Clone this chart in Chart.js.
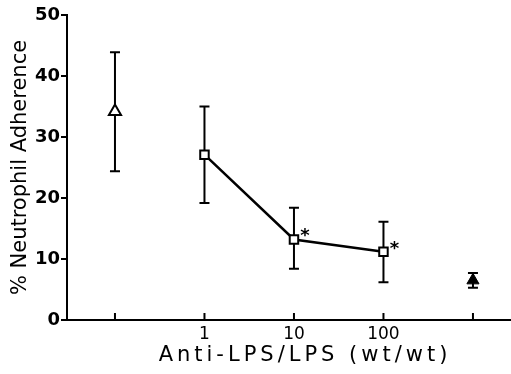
<!DOCTYPE html>
<html>
<head>
<meta charset="utf-8">
<script src="https://cdn.jsdelivr.net/npm/chart.js@4.4.1/dist/chart.umd.min.js"></script>
<style>
  html, body { margin: 0; padding: 0; background: #fff; }
  canvas { display: block; }
</style>
</head>
<body>
<canvas id="chart" width="511" height="374"></canvas>
<script>
// x slots: no antibody, ratio 1, 10, 100, and the filled-triangle group
const xTickLabels = ['', '1', '10', '100', ''];
const xTitle = 'Anti-LPS/LPS (wt/wt)';
const yTitle = '% Neutrophil Adherence';

// open triangle
const controlSlot = [0];
const controlMean = [34.2];
const controlLow = [24.4];
const controlHigh = [43.9];

// anti-LPS/LPS ratios (open squares, joined)
const ratioSlots = [1, 2, 3];
const ratioMean = [27.1, 13.2, 11.2];
const ratioLow = [19.2, 8.4, 6.2];
const ratioHigh = [35.0, 18.4, 16.1];
const ratioSignificant = [false, true, true];

// filled triangle
const refSlot = [4];
const refMean = [6.5];
const refLow = [5.3];
const refHigh = [7.7];

const FONT = "'DejaVu Sans', sans-serif";
const toPoints = (xs, ys) => xs.map((x, i) => ({ x: x, y: ys[i] }));

// error bars, upward x ticks, asterisks and the x title
const extras = {
  id: 'extras',
  beforeDatasetsDraw(chart) {
    const ctx = chart.ctx, xs = chart.scales.x, ys = chart.scales.y;
    ctx.save();
    ctx.strokeStyle = '#000';
    ctx.lineWidth = 2;
    ctx.beginPath();
    chart.data.datasets.forEach(ds => {
      ds.data.forEach((p, i) => {
        const px = xs.getPixelForValue(p.x);
        const top = ys.getPixelForValue(ds.errHigh[i]);
        const bot = ys.getPixelForValue(ds.errLow[i]);
        ctx.moveTo(px, top); ctx.lineTo(px, bot);
        ctx.moveTo(px - 5, top); ctx.lineTo(px + 5, top);
        ctx.moveTo(px - 5, bot); ctx.lineTo(px + 5, bot);
      });
    });
    const base = ys.getPixelForValue(0);
    xTickLabels.forEach((_, i) => {
      const px = xs.getPixelForValue(i);
      ctx.moveTo(px, base); ctx.lineTo(px, base - 7);
    });
    ctx.stroke();
    ctx.restore();
  },
  afterDatasetsDraw(chart) {
    const ctx = chart.ctx, xs = chart.scales.x, ys = chart.scales.y;
    const area = chart.chartArea;
    ctx.save();
    ctx.fillStyle = '#000';
    ctx.font = 'bold 18px ' + FONT;
    ctx.textAlign = 'center';
    ratioSlots.forEach((s, i) => {
      if (!ratioSignificant[i]) return;
      const px = xs.getPixelForValue(s) + 11;
      const py = ys.getPixelForValue(ratioMean[i]) - 9;
      ctx.fillText('*', px, py + 11);
    });
    ctx.font = '21px ' + FONT;
    ctx.letterSpacing = '4px';
    ctx.textBaseline = 'middle';
    ctx.fillText(xTitle, (area.left + area.right) / 2 + 16, area.bottom + 36);
    ctx.restore();
  }
};

new Chart(document.getElementById('chart'), {
  type: 'scatter',
  data: {
    datasets: [
      {
        data: toPoints(controlSlot, controlMean),
        errLow: controlLow, errHigh: controlHigh,
        pointStyle: 'triangle', pointRadius: 7,
        pointBackgroundColor: '#fff', pointBorderColor: '#000', pointBorderWidth: 2,
        showLine: false
      },
      {
        data: toPoints(ratioSlots, ratioMean),
        errLow: ratioLow, errHigh: ratioHigh,
        pointStyle: 'rect', pointRadius: 6,
        pointBackgroundColor: '#fff', pointBorderColor: '#000', pointBorderWidth: 2,
        showLine: true, borderColor: '#000', borderWidth: 2.5, tension: 0
      },
      {
        data: toPoints(refSlot, refMean),
        errLow: refLow, errHigh: refHigh,
        pointStyle: 'triangle', pointRadius: 7,
        pointBackgroundColor: '#000', pointBorderColor: '#000', pointBorderWidth: 1,
        showLine: false
      }
    ]
  },
  options: {
    responsive: false,
    animation: false,
    layout: { autoPadding: false, padding: { top: 15, right: 0, left: 0, bottom: 0 } },
    plugins: { legend: { display: false }, tooltip: { enabled: false } },
    scales: {
      x: {
        type: 'linear',
        min: -0.536,
        max: 4.425,
        afterFit(scale) {
          scale.height = 54;
          scale.paddingLeft = 0;
          scale.paddingRight = 0;
        },
        afterBuildTicks(scale) { scale.ticks = xTickLabels.map((_, i) => ({ value: i })); },
        grid: { display: false, drawTicks: false, tickLength: 0 },
        border: { display: true, color: '#000', width: 2 },
        ticks: {
          padding: 4,
          color: '#000',
          font: { family: FONT, size: 17 },
          callback: (v) => xTickLabels[v] ?? ''
        }
      },
      y: {
        min: 0,
        max: 50,
        afterFit(scale) { scale.width = 67; },
        grid: { drawOnChartArea: false, drawTicks: true, tickLength: 6, color: '#000', lineWidth: 2 },
        border: { display: true, color: '#000', width: 2 },
        ticks: {
          stepSize: 10,
          padding: 1,
          color: '#000',
          font: { family: FONT, size: 18, weight: 'bold' }
        },
        title: {
          display: true,
          text: yTitle,
          color: '#000',
          font: { family: FONT, size: 21 },
          padding: { top: 8, bottom: 0 }
        }
      }
    }
  },
  plugins: [extras]
});
</script>
</body>
</html>
